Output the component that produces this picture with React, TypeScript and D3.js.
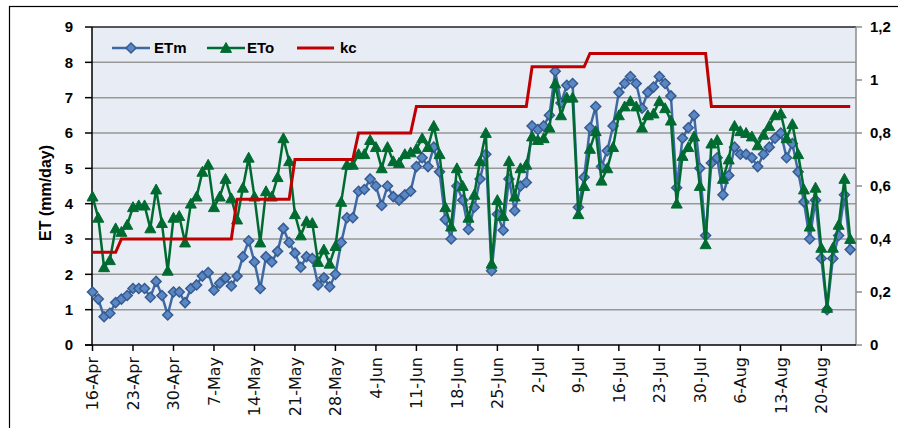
import { useMemo } from "react";
import * as d3 from "d3";

// daily series, 16-Apr .. 25-Aug
const startDay = "2013-04-16";
const etm = [
  1.5, 1.3, 0.8, 0.9, 1.2, 1.3, 1.4, 1.6, 1.6, 1.6, 1.35, 1.8, 1.4, 0.85, 1.5, 1.5, 1.2, 1.6, 1.7, 1.95,
  2.05, 1.55, 1.75, 1.9, 1.67, 1.95, 2.5, 2.95, 2.35, 1.6, 2.5, 2.35, 2.65, 3.3, 2.9, 2.6, 2.2, 2.5, 2.45, 1.7,
  1.9, 1.65, 2.0, 2.9, 3.6, 3.6, 4.35, 4.4, 4.7, 4.5, 3.95, 4.5, 4.2, 4.1, 4.25, 4.35, 5.05, 5.3, 5.05, 5.6,
  4.9, 3.55, 3.0, 4.5, 4.1, 3.27, 3.9, 4.7, 5.4, 2.1, 3.7, 3.25, 4.7, 3.8, 4.5, 4.6, 6.2, 6.1, 6.2, 6.5,
  7.75, 6.85, 7.35, 7.4, 3.9, 4.75, 6.15, 6.75, 5.05, 5.5, 6.2, 7.15, 7.4, 7.6, 7.4, 6.7, 7.15, 7.3, 7.6, 7.4,
  7.05, 4.45, 5.85, 6.15, 6.5, 5.0, 3.1, 5.15, 5.3, 4.25, 4.8, 5.6, 5.4, 5.4, 5.3, 5.05, 5.4, 5.6, 5.85, 6.0,
  5.3, 5.7, 4.9, 4.05, 3.0, 4.1, 2.45, 1.0, 2.45, 3.1, 4.25, 2.7,
];
const eto = [
  4.2, 3.6, 2.2, 2.4, 3.3, 3.2, 3.4, 3.9, 3.95, 3.95, 3.3, 4.4, 3.45, 2.1, 3.6, 3.65, 2.9, 4.0, 4.2, 4.9,
  5.1, 3.9, 4.2, 4.7, 4.15, 3.55, 4.45, 5.3, 4.2, 2.9, 4.35, 4.2, 4.75, 5.85, 5.2, 3.7, 3.1, 3.5, 3.45, 2.35,
  2.7, 2.3, 2.8, 4.05, 5.1, 5.1, 5.4, 5.4, 5.8, 5.6, 5.0, 5.6, 5.2, 5.15, 5.4, 5.45, 5.55, 5.85, 5.6, 6.2,
  5.4, 3.9, 3.35, 5.0, 4.5, 3.6, 4.25, 5.2, 6.0, 2.3, 4.1, 3.65, 5.2, 4.2, 5.0, 5.1, 5.9, 5.8, 5.85, 6.15,
  7.4, 6.5, 7.0, 7.0, 3.7, 4.5, 5.55, 6.05, 4.65, 5.0, 5.6, 6.5, 6.75, 6.9, 6.75, 6.15, 6.5, 6.55, 6.9, 6.7,
  6.35, 4.0, 5.35, 5.6, 5.9, 4.5, 2.85, 5.7, 5.8, 4.7, 5.25, 6.2, 6.05, 6.0, 5.9, 5.65, 5.95, 6.2, 6.5, 6.55,
  5.85, 6.25, 5.4, 4.4, 3.35, 4.45, 2.75, 1.05, 2.75, 3.4, 4.7, 3.0,
];
// kc stage corners
const kcDates = [
  "2013-04-16", "2013-04-20", "2013-04-21", "2013-05-10", "2013-05-11", "2013-05-20", "2013-05-21",
  "2013-05-31", "2013-06-01", "2013-06-10", "2013-06-11", "2013-06-30", "2013-07-01", "2013-07-10",
  "2013-07-11", "2013-07-31", "2013-08-01", "2013-08-25",
];
const kcValues = [0.35, 0.35, 0.4, 0.4, 0.55, 0.55, 0.7, 0.7, 0.8, 0.8, 0.9, 0.9, 1.05, 1.05, 1.1, 1.1, 0.9, 0.9];
const xTickLabels = [
  "16-Apr", "23-Apr", "30-Apr", "7-May", "14-May", "21-May", "28-May", "4-Jun", "11-Jun",
  "18-Jun", "25-Jun", "2-Jul", "9-Jul", "16-Jul", "23-Jul", "30-Jul", "6-Aug", "13-Aug", "20-Aug",
];
const leftTicks = [0, 1, 2, 3, 4, 5, 6, 7, 8, 9];
const rightTicks = [0, 0.2, 0.4, 0.6, 0.8, 1, 1.2];

const W = 898;
const H = 428;
const plot = { left: 92, right: 856, top: 27, bottom: 345 };
const blue = "#3F69A2";
const green = "#006B31";
const red = "#C00000";
const boldFont = "'Liberation Sans', Arial, sans-serif";

export default function App() {
  const parse = d3.timeParse("%Y-%m-%d");
  const day0 = parse(startDay) as Date;

  const x = d3
    .scaleTime()
    .domain([day0, d3.timeDay.offset(day0, 132)])
    .range([plot.left + 0.5, plot.right]);
  const y = d3.scaleLinear().domain([0, 9]).range([plot.bottom, plot.top]);
  const y2 = d3.scaleLinear().domain([0, 1.2]).range([plot.bottom, plot.top]);

  const etmPts = useMemo(() => etm.map((v, i) => ({ d: d3.timeDay.offset(day0, i), v })), []);
  const etoPts = useMemo(() => eto.map((v, i) => ({ d: d3.timeDay.offset(day0, i), v })), []);
  const kcPts = kcDates.map((s, i) => ({ d: parse(s) as Date, v: kcValues[i] }));
  const tickDates = xTickLabels.map((_, i) => d3.timeDay.offset(day0, i * 7));

  const line = d3
    .line<{ d: Date; v: number }>()
    .x((p) => x(p.d))
    .y((p) => y(p.v));
  const kcLine = d3
    .line<{ d: Date; v: number }>()
    .x((p) => x(p.d))
    .y((p) => y2(p.v));

  const diamond = (cx: number, cy: number, r = 5) =>
    `M${cx},${cy - r}L${cx + r},${cy}L${cx},${cy + r}L${cx - r},${cy}Z`;
  const triangle = (cx: number, cy: number, r = 5.5) =>
    `M${cx},${cy - r}L${cx + r},${cy + r * 0.8}L${cx - r},${cy + r * 0.8}Z`;

  return (
    <svg
      width={W}
      height={H}
      style={{ position: "absolute", left: 0, top: 0, background: "#fff" }}
    >
      <rect x={9.5} y={6.5} width={1000} height={1000} fill="none" stroke="#000" strokeWidth={1.2} />
      <rect
        x={plot.left}
        y={plot.top}
        width={plot.right - plot.left}
        height={plot.bottom - plot.top}
        fill="#E8ECF4"
      />
      {/* gridlines */}
      {leftTicks.slice(1, -1).map((t) => (
        <line key={t} x1={plot.left} x2={plot.right} y1={y(t)} y2={y(t)} stroke="#979797" strokeWidth={1.5} />
      ))}
      <line x1={plot.left} x2={plot.right} y1={plot.top} y2={plot.top} stroke="#222" strokeWidth={1.5} />
      {/* right axis */}
      <line x1={plot.right} x2={plot.right} y1={plot.top} y2={plot.bottom} stroke="#8c8c8c" strokeWidth={1.5} />
      {rightTicks.map((t) => (
        <g key={t}>
          <line x1={plot.right} x2={plot.right + 6} y1={y2(t)} y2={y2(t)} stroke="#8c8c8c" strokeWidth={1.5} />
          <text
            x={plot.right + 14}
            y={y2(t)}
            dy="0.36em"
            fontFamily={boldFont}
            fontWeight="bold"
            fontSize={15}
          >
            {String(t).replace(".", ",")}
          </text>
        </g>
      ))}
      {/* left axis */}
      <line x1={plot.left} x2={plot.left} y1={plot.top} y2={plot.bottom} stroke="#000" strokeWidth={1.5} />
      {leftTicks.map((t) => (
        <g key={t}>
          <line x1={plot.left - 7} x2={plot.left} y1={y(t)} y2={y(t)} stroke="#000" strokeWidth={1.5} />
          <text
            x={plot.left - 19}
            y={y(t)}
            dy="0.36em"
            textAnchor="end"
            fontFamily={boldFont}
            fontWeight="bold"
            fontSize={15}
          >
            {t}
          </text>
        </g>
      ))}
      <text
        transform={`translate(51,${(plot.top + plot.bottom) / 2 + 7}) rotate(-90)`}
        textAnchor="middle"
        fontFamily={boldFont}
        fontWeight="bold"
        fontSize={16}
      >
        ET (mm/day)
      </text>
      {/* x axis */}
      <line x1={plot.left - 7} x2={plot.right} y1={plot.bottom} y2={plot.bottom} stroke="#000" strokeWidth={1.5} />
      {tickDates.map((d, i) => (
        <g key={i}>
          <line x1={x(d)} x2={x(d)} y1={plot.bottom} y2={plot.bottom + 6} stroke="#000" strokeWidth={1.5} />
          <text
            transform={`translate(${x(d)},${plot.bottom + 12}) rotate(-90)`}
            dy="0.36em"
            textAnchor="end"
            fontFamily="'DejaVu Sans', sans-serif"
            fontSize={16}
            fill="#111"
          >
            {xTickLabels[i]}
          </text>
        </g>
      ))}
      {/* ETm */}
      <path d={line(etmPts) ?? ""} fill="none" stroke={blue} strokeWidth={2.5} strokeLinejoin="round" />
      {etmPts.map((p, i) => (
        <path key={i} d={diamond(x(p.d), y(p.v))} fill="#5A87C5" stroke="#365B90" strokeWidth={1.5} />
      ))}
      {/* ETo */}
      <path d={line(etoPts) ?? ""} fill="none" stroke={green} strokeWidth={2.5} strokeLinejoin="round" />
      {etoPts.map((p, i) => (
        <path key={i} d={triangle(x(p.d), y(p.v))} fill={green} stroke={green} strokeWidth={1} />
      ))}
      {/* kc */}
      <path d={kcLine(kcPts) ?? ""} fill="none" stroke={red} strokeWidth={3} />
      {/* legend */}
      <g fontFamily={boldFont} fontWeight="bold" fontSize={15}>
        <line x1={112} x2={150} y1={48} y2={48} stroke={blue} strokeWidth={2.5} />
        <path d={diamond(131, 48)} fill="#5A87C5" stroke="#365B90" strokeWidth={1.5} />
        <text x={154} y={48} dy="0.36em">ETm</text>
        <line x1={207} x2={245} y1={48} y2={48} stroke={green} strokeWidth={2.5} />
        <path d={triangle(226, 48)} fill={green} stroke={green} />
        <text x={247} y={48} dy="0.36em">ETo</text>
        <line x1={297} x2={334} y1={48} y2={48} stroke={red} strokeWidth={3} />
        <text x={340} y={48} dy="0.36em">kc</text>
      </g>
    </svg>
  );
}
